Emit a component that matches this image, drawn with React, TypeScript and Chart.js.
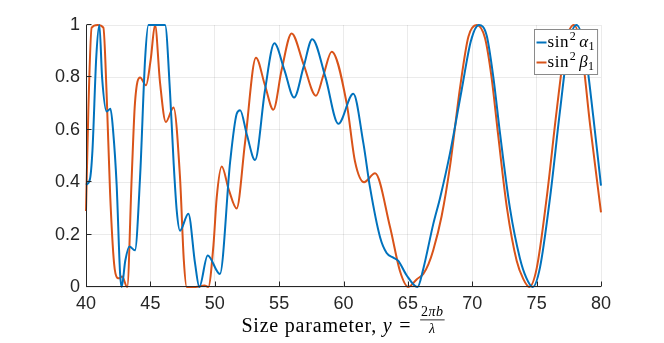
import React, { useEffect, useRef } from "react";
import { Chart, registerables } from "chart.js";
Chart.register(...registerables);

const xTicks = [40, 45, 50, 55, 60, 65, 70, 75, 80];
const yTicks = [0, 0.2, 0.4, 0.6, 0.8, 1];

const blueX = [40, 40.3, 40.5, 40.8, 41.04, 41.25, 41.6, 41.9, 42.1, 42.38, 42.65, 42.77, 43.05, 43.37, 43.8, 44.2, 44.59, 44.85, 45.5, 46.14, 46.53, 46.8, 47.05, 47.3, 47.95, 48.47, 48.8, 49.45, 50.4, 51.2, 51.7, 51.97, 52.5, 53.13, 53.9, 54.63, 55.4, 56.16, 56.9, 57.57, 58.6, 59.6, 60.76, 61.54, 62.06, 62.84, 63.35, 63.87, 64.26, 64.9, 65.75, 66.2, 66.97, 67.5, 68.27, 69.17, 69.9, 70.52, 71.12, 71.64, 72.16, 72.93, 73.7, 74.2, 74.7, 75.26, 76.04, 76.81, 77.46, 78.11, 78.76, 79.4, 80];
const blueY = [0.39, 0.41, 0.52, 0.88, 1.0, 0.8, 0.67, 0.68, 0.6, 0.39, 0.05, 0.0, 0.1, 0.155, 0.14, 0.42, 0.87, 1.0, 1.0, 1.0, 0.74, 0.48, 0.29, 0.215, 0.28, 0.09, 0.0, 0.12, 0.05, 0.48, 0.66, 0.675, 0.58, 0.485, 0.75, 0.93, 0.83, 0.723, 0.84, 0.946, 0.8, 0.623, 0.738, 0.55, 0.38, 0.19, 0.13, 0.112, 0.1, 0.045, 0.0, 0.07, 0.24, 0.34, 0.51, 0.75, 0.94, 1.0, 0.96, 0.8, 0.585, 0.3, 0.11, 0.035, 0.0, 0.074, 0.34, 0.67, 0.92, 1.0, 0.9, 0.65, 0.387];

const orangeX = [40, 40.18, 40.44, 40.9, 41.35, 41.6, 41.87, 42.18, 42.43, 42.6, 42.8, 43.2, 43.55, 43.8, 44.2, 44.66, 45.03, 45.36, 45.75, 46.2, 46.8, 47.3, 47.6, 47.82, 48.5, 49.2, 49.5, 49.9, 50.15, 50.54, 51.1, 51.7, 52.35, 53.2, 53.9, 54.55, 55.2, 55.97, 56.9, 57.86, 58.45, 59.08, 60.25, 60.89, 61.6, 62.45, 63.61, 64.39, 65.03, 65.7, 66.2, 66.6, 66.97, 67.62, 68.27, 69.05, 69.7, 70.35, 70.99, 71.5, 72.0, 72.7, 73.45, 73.97, 74.43, 75.0, 75.78, 76.55, 77.25, 77.9, 78.5, 79.15, 80];
const orangeY = [0.29, 0.67, 0.99, 1.0, 0.99, 0.74, 0.36, 0.09, 0.035, 0.033, 0.04, 0.0, 0.42, 0.7, 0.8, 0.77, 0.87, 1.0, 0.78, 0.63, 0.685, 0.42, 0.1, 0.0, 0.0, 0.006, 0.0, 0.16, 0.34, 0.46, 0.37, 0.3, 0.55, 0.875, 0.77, 0.677, 0.83, 0.968, 0.85, 0.73, 0.81, 0.898, 0.7, 0.48, 0.4, 0.434, 0.23, 0.06, 0.0, 0.03, 0.05, 0.087, 0.14, 0.27, 0.46, 0.76, 0.955, 1.0, 0.95, 0.8, 0.585, 0.3, 0.1, 0.03, 0.0, 0.07, 0.34, 0.67, 0.93, 1.0, 0.9, 0.62, 0.285];

const seriesColors = ["#0072BD", "#D95319"];
const legendSymbols = ["α", "β"];

const SERIF = "'Liberation Serif', 'DejaVu Serif', serif";
const SANS = "'Liberation Sans', Arial, sans-serif";

const axesPlugin = {
  id: "matlabAxes",
  afterDatasetsDraw(chart: any) {
    const { ctx, chartArea: a, scales } = chart;
    ctx.save();
    ctx.strokeStyle = "#262626";
    ctx.lineWidth = 1;
    const lx = Math.round(a.left) + 0.5;
    const by = Math.round(a.bottom) - 0.5;
    ctx.beginPath();
    ctx.moveTo(lx, a.top);
    ctx.lineTo(lx, a.bottom);
    ctx.moveTo(a.left, by);
    ctx.lineTo(a.right, by);
    for (const v of xTicks) {
      const px = Math.round(scales.x.getPixelForValue(v)) + 0.5;
      ctx.moveTo(px, by);
      ctx.lineTo(px, by - 5);
    }
    for (const v of yTicks) {
      const py = Math.round(scales.y.getPixelForValue(v)) - 0.5;
      ctx.moveTo(lx, py);
      ctx.lineTo(lx + 5, py);
    }
    ctx.stroke();
    ctx.restore();
  },
};

function drawMathLabel(ctx: any, x: number, y: number, sym: string, draw: boolean) {
  let cx = x;
  ctx.letterSpacing = "0.6px";
  ctx.font = `17px ${SERIF}`;
  if (draw) ctx.fillText("sin", cx, y);
  cx += ctx.measureText("sin").width + 0.5;
  ctx.letterSpacing = "0px";
  ctx.font = `12px ${SERIF}`;
  if (draw) ctx.fillText("2", cx, y - 7);
  cx += ctx.measureText("2").width + 3.5;
  ctx.font = `italic 17px ${SERIF}`;
  if (draw) ctx.fillText(sym, cx, y);
  cx += ctx.measureText(sym).width + 0.5;
  ctx.font = `12px ${SERIF}`;
  if (draw) ctx.fillText("1", cx, y + 3);
  cx += ctx.measureText("1").width;
  return cx - x;
}

const legendPlugin = {
  id: "mathLegend",
  afterDraw(chart: any) {
    const { ctx, chartArea: a } = chart;
    ctx.save();
    ctx.textBaseline = "alphabetic";
    const textW = Math.max(...legendSymbols.map((s) => drawMathLabel(ctx, 0, 0, s, false)));
    const lineLen = 10;
    const w = 2 + lineLen + 1 + textW + 3;
    const h = 45;
    const right = a.right - 4;
    const left = Math.round(right - w) + 0.5;
    const top = Math.round(a.top + 4) + 0.5;
    ctx.fillStyle = "#ffffff";
    ctx.fillRect(left, top, w, h);
    ctx.strokeStyle = "#8a8a8a";
    ctx.lineWidth = 1;
    ctx.strokeRect(left, top, w, h);
    legendSymbols.forEach((s, i) => {
      const cy = top + 13 + i * 20;
      ctx.strokeStyle = seriesColors[i];
      ctx.lineWidth = 2;
      ctx.beginPath();
      ctx.moveTo(left + 2, cy);
      ctx.lineTo(left + 2 + lineLen, cy);
      ctx.stroke();
      ctx.fillStyle = "#000000";
      drawMathLabel(ctx, left + 2 + lineLen + 1, cy + 4, s, true);
    });
    ctx.restore();
  },
};

const xLabelPlugin = {
  id: "xMathLabel",
  afterDraw(chart: any) {
    const { ctx, chartArea: a } = chart;
    ctx.save();
    ctx.fillStyle = "#000000";
    ctx.textBaseline = "alphabetic";
    const main = `20px ${SERIF}`;
    const ital = `italic 20px ${SERIF}`;
    const small = `14px ${SERIF}`;
    const smallIt = `italic 14px ${SERIF}`;
    ctx.letterSpacing = "0.8px";
    ctx.font = main;
    const w1 = ctx.measureText("Size parameter, ").width;
    ctx.font = ital;
    const w2 = ctx.measureText("y").width;
    ctx.font = main;
    const w3 = ctx.measureText(" = ").width + 3;
    ctx.letterSpacing = "0.5px";
    ctx.font = small;
    const n1 = ctx.measureText("2").width;
    ctx.font = smallIt;
    const n2 = ctx.measureText("πb").width;
    const numW = n1 + n2;
    const denW = ctx.measureText("λ").width;
    const fracW = Math.max(numW, denW) + 4;
    const total = w1 + w2 + w3 + fracW;
    const cxMid = (a.left + a.right) / 2;
    let x = cxMid - total / 2;
    const base = a.bottom + 45;
    ctx.letterSpacing = "0.8px";
    ctx.font = main;
    ctx.fillText("Size parameter, ", x, base);
    x += w1;
    ctx.font = ital;
    ctx.fillText("y", x, base);
    x += w2;
    ctx.font = main;
    ctx.fillText(" = ", x + 1, base);
    x += w3;
    const fx = x + 2;
    const fw = fracW - 4;
    ctx.letterSpacing = "0.5px";
    ctx.font = small;
    ctx.fillText("2", fx + (fw - numW) / 2, base - 16);
    ctx.font = smallIt;
    ctx.fillText("πb", fx + (fw - numW) / 2 + n1, base - 16);
    ctx.fillText("λ", fx + (fw - denW) / 2, base + 1);
    ctx.fillRect(fx - 1, base - 12.5, fw + 2, 0.8);
    ctx.restore();
  },
};

export default function App() {
  const ref = useRef<HTMLCanvasElement | null>(null);
  useEffect(() => {
    if (!ref.current) return;
    const mk = (xs: number[], ys: number[]) => xs.map((x, i) => ({ x, y: ys[i] }));
    const chart = new Chart(ref.current, {
      type: "line",
      data: {
        datasets: [
          { label: "sin^2 alpha_1", data: mk(blueX, blueY), borderColor: seriesColors[0], borderWidth: 2, pointRadius: 0, cubicInterpolationMode: "monotone", clip: 4 } as any,
          { label: "sin^2 beta_1", data: mk(orangeX, orangeY), borderColor: seriesColors[1], borderWidth: 2, pointRadius: 0, cubicInterpolationMode: "monotone", clip: 4 } as any,
        ],
      },
      options: {
        responsive: false,
        maintainAspectRatio: false,
        animation: false,
        devicePixelRatio: 1,
        layout: { padding: { left: 0, top: 25, right: 63, bottom: 0 } },
        plugins: { legend: { display: false }, tooltip: { enabled: false }, title: { display: false } },
        scales: {
          x: {
            type: "linear",
            min: 40,
            max: 80,
            afterBuildTicks: (s: any) => { s.ticks = xTicks.map((v) => ({ value: v })); },
            afterFit: (s: any) => { s.height = 56; },
            ticks: { font: { family: SANS, size: 18 }, color: "#262626", padding: 6, maxRotation: 0, autoSkip: false, callback: (v: any) => String(v) },
            grid: { color: "rgba(38,38,38,0.09)", drawTicks: false, lineWidth: 1 },
            border: { display: false },
          },
          y: {
            type: "linear",
            min: 0,
            max: 1,
            afterBuildTicks: (s: any) => { s.ticks = yTicks.map((v) => ({ value: v })); },
            afterFit: (s: any) => { s.width = 86; },
            ticks: { font: { family: SANS, size: 18 }, color: "#262626", padding: 6, autoSkip: false, callback: (v: any) => String(Math.round(v * 10) / 10) },
            grid: { color: "rgba(38,38,38,0.09)", drawTicks: false, lineWidth: 1 },
            border: { display: false },
          },
        },
      },
      plugins: [axesPlugin, legendPlugin, xLabelPlugin],
    });
    return () => chart.destroy();
  }, []);
  return (
    <div style={{ position: "absolute", left: 0, top: 0, width: 664, height: 343, background: "#fff" }}>
      <canvas ref={ref} width={664} height={343} style={{ display: "block" }} />
    </div>
  );
}
